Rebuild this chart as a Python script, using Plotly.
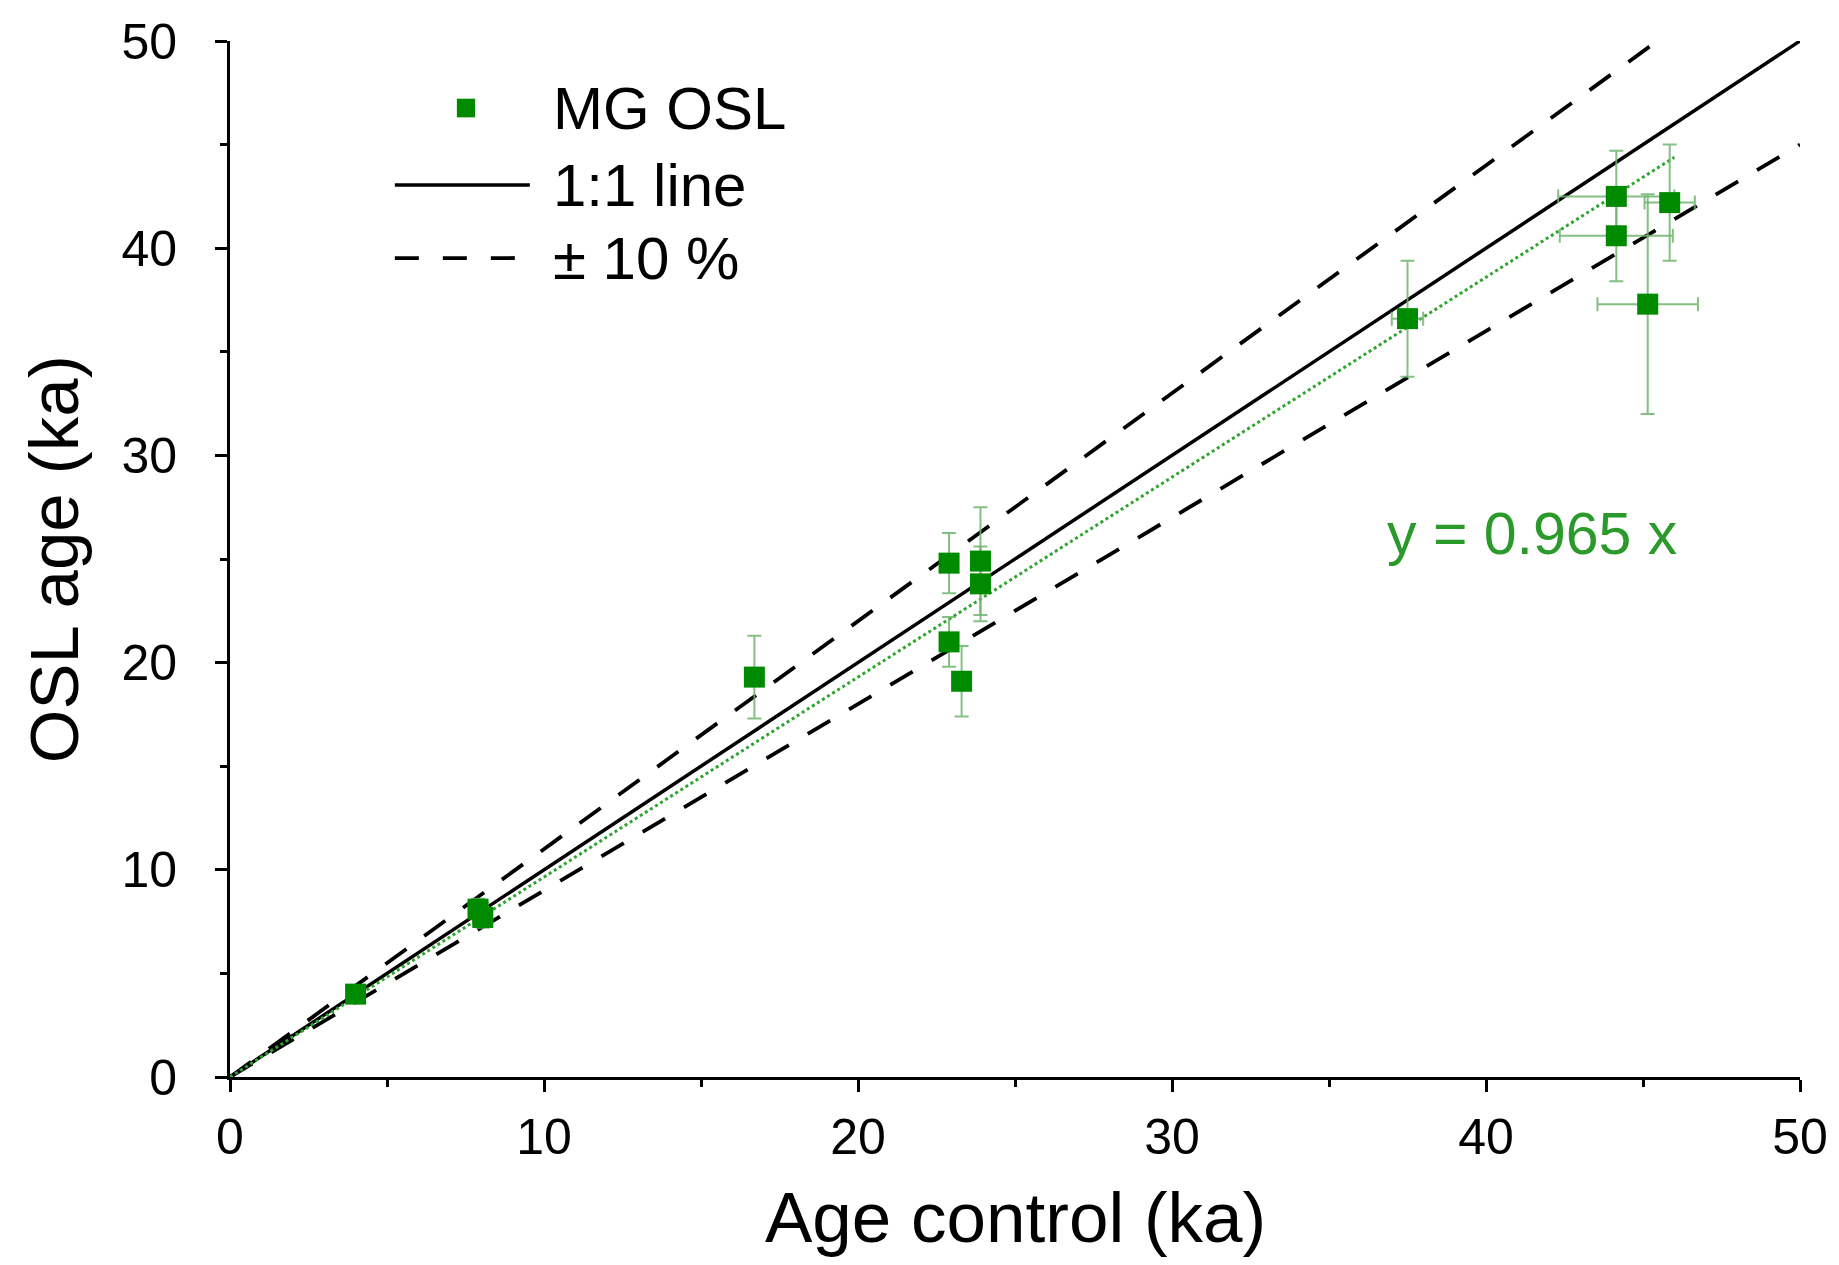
import plotly.graph_objects as go

# ---- data ----
control_age = [4.0, 7.9, 8.05, 16.7, 22.9, 22.9, 23.3, 23.9, 23.9, 37.5, 44.15, 44.15, 45.15, 45.85]
osl_age     = [4.0, 8.1, 7.7, 19.3, 24.8, 21.0, 19.1, 24.9, 23.8, 36.6, 42.5, 40.6, 37.3, 42.2]
osl_err     = [0.3, 0.5, 0.5, 2.0, 1.45, 1.2, 1.7, 2.6, 1.8, 2.8, 2.2, 2.2, 5.3, 2.8]
control_err = [0.2, 0.3, 0.3, 0.2, 0.2, 0.2, 0.2, 0.2, 0.2, 0.5, 1.85, 1.8, 1.6, 0.8]

ref_x = [0, 50]
ref_y = [0, 50]
upper_x = [0, 50 / 1.1]
lower_x = [0, 50]
slope = 0.965
fit_x = [0, 46]

axis_ticks = [0, 10, 20, 30, 40, 50]

GREEN = "#008a00"
ERR = "rgba(110,180,110,0.85)"
FONT = "Liberation Sans, Arial, sans-serif"

fig = go.Figure()

# 1:1 line
fig.add_trace(go.Scatter(x=ref_x, y=ref_y, mode="lines",
                         line=dict(color="black", width=3.5), showlegend=False))
# +/-10 %
fig.add_trace(go.Scatter(x=upper_x, y=[v * 1.1 for v in upper_x], mode="lines",
                         line=dict(color="black", width=3.8, dash="26px,22px"), showlegend=False))
fig.add_trace(go.Scatter(x=lower_x, y=[v * 0.9 for v in lower_x], mode="lines",
                         line=dict(color="black", width=3.8, dash="26px,22px"), showlegend=False))
# fit line
fig.add_trace(go.Scatter(x=fit_x, y=[slope * v for v in fit_x], mode="lines",
                         line=dict(color="#2ea52e", width=3, dash="dot"), showlegend=False))
# data
fig.add_trace(go.Scatter(
    x=control_age, y=osl_age, mode="markers",
    marker=dict(symbol="square", size=21, color=GREEN),
    error_y=dict(type="data", array=osl_err, visible=True, color=ERR, thickness=2, width=7),
    error_x=dict(type="data", array=control_err, visible=True, color=ERR, thickness=2, width=7),
    showlegend=False))

# ---- manual legend (paper coordinates) ----
lx0, lx1, ltext = 0.105, 0.191, 0.2045
fig.add_shape(type="line", xref="paper", yref="paper", x0=lx0, x1=lx1, y0=0.861, y1=0.861,
              line=dict(color="black", width=3.5))
fig.add_shape(type="line", xref="paper", yref="paper", x0=lx0, x1=0.1815, y0=0.7905, y1=0.7905,
              line=dict(color="black", width=3.8, dash="24px,24px"))
fig.add_shape(type="rect", xref="paper", yref="paper",
              x0=0.1503 - 0.0058, x1=0.1503 + 0.0058, y0=0.9353 - 0.009, y1=0.9353 + 0.009,
              fillcolor=GREEN, line=dict(width=0))
for txt, yy in [("MG OSL", 0.9353), ("1:1 line", 0.861), ("± 10 %", 0.7905)]:
    fig.add_annotation(text=txt, xref="paper", yref="paper", x=ltext, y=yy,
                       xanchor="left", yanchor="middle", showarrow=False,
                       font=dict(size=60, color="black", family=FONT))

# equation
fig.add_annotation(text="y = 0.965 x", x=41.46, y=26.2, xref="x", yref="y",
                   showarrow=False, xanchor="center", yanchor="middle",
                   font=dict(size=59, color="#2a9a2a", family=FONT))

# axis titles
fig.add_annotation(text="Age control (ka)", xref="paper", yref="paper", x=0.5, y=-0.136,
                   showarrow=False, xanchor="center", yanchor="middle",
                   font=dict(size=71, color="black", family=FONT))
fig.add_annotation(text="OSL age (ka)", xref="paper", yref="paper", x=-0.112, y=0.5,
                   showarrow=False, xanchor="center", yanchor="middle", textangle=-90,
                   borderpad=0,
                   font=dict(size=69, color="black", family=FONT))

axis_common = dict(
    range=[0, 50], tickvals=axis_ticks, ticktext=[str(t) for t in axis_ticks],
    showline=True, linecolor="black", linewidth=3, mirror=False,
    ticks="outside", ticklen=12, tickwidth=3, tickcolor="black",
    minor=dict(dtick=5, tick0=0, ticks="outside", ticklen=7, tickwidth=2.5, tickcolor="black"),
    showgrid=False, zeroline=False,
    tickfont=dict(size=50, color="black", family=FONT),
)

# the page body adds an 8px offset; margins compensate so the plot area lands at
# x 230..1800 and y 41..1077 in the screenshot
fig.update_layout(
    width=1839, height=1265,
    margin=dict(l=222, r=47, t=33, b=196, autoexpand=False),
    paper_bgcolor="white", plot_bgcolor="white",
    xaxis=dict(**axis_common, ticklabelstandoff=2),
    yaxis=dict(**axis_common, ticklabelstandoff=28),
    showlegend=False,
)

fig.write_html("out.html")
